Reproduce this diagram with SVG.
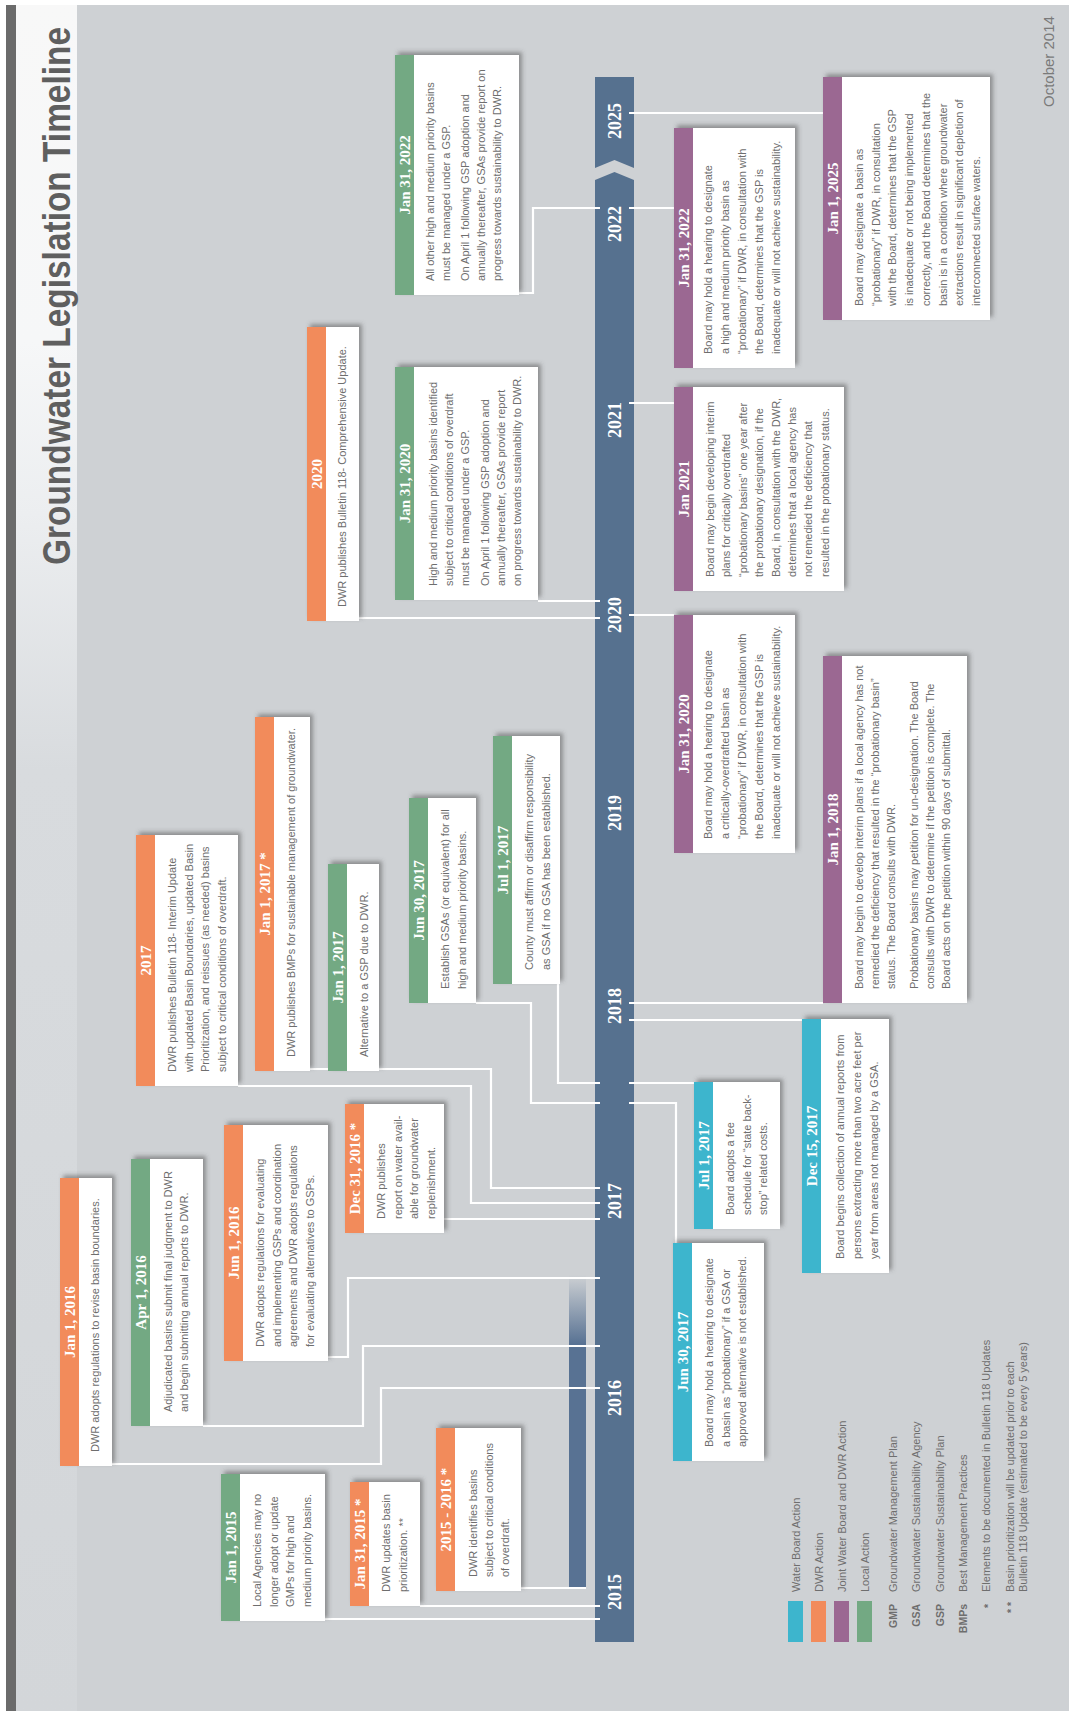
<svg xmlns="http://www.w3.org/2000/svg" width="1069" height="1711" viewBox="0 0 1069 1711">
<defs>
<style>
.box{fill:#fff;filter:url(#sh)}
.cy{fill:#3db5cd}.or{fill:#f28b5b}.pu{fill:#9b6892}.gr{fill:#73a983}
.hd{font-family:'Liberation Serif','Times New Roman',serif;font-weight:bold;font-size:15px;fill:#fff;text-anchor:middle}
.bd{font-family:'Liberation Sans',Arial,sans-serif;font-size:11px;fill:#6e6e6e}
.cn{stroke:#fff;stroke-width:2.2;fill:none}
.yr{font-family:'Liberation Serif','Times New Roman',serif;font-weight:bold;font-size:18px;fill:#fff;text-anchor:middle}
.lg{font-family:'Liberation Sans',Arial,sans-serif;font-size:11px;fill:#6e6e6e}
.ab{font-family:'Liberation Sans',Arial,sans-serif;font-size:10.5px;font-weight:bold;fill:#6e6e6e;text-anchor:end}
</style>
<filter id="sh" x="-10%" y="-10%" width="130%" height="130%">
<feDropShadow dx="3" dy="3" stdDeviation="2" flood-color="#4a4a4a" flood-opacity="0.5"/>
</filter>
<linearGradient id="band" gradientUnits="userSpaceOnUse" x1="0" y1="0" x2="1711" y2="0">
<stop offset="0" stop-color="#d3d6d9"/>
<stop offset="0.55" stop-color="#d8dbde"/>
<stop offset="0.7" stop-color="#eceef0"/>
<stop offset="0.8" stop-color="#f6f7f8"/>
<stop offset="1" stop-color="#f8f8f8"/>
</linearGradient>
<linearGradient id="sec" gradientUnits="userSpaceOnUse" x1="123" y1="0" x2="436" y2="0">
<stop offset="0" stop-color="#587293"/>
<stop offset="0.78" stop-color="#587293"/>
<stop offset="1" stop-color="#587293" stop-opacity="0"/>
</linearGradient>
</defs>
<g transform="translate(0,1711) rotate(-90)">
<g id="background">
<rect x="0" y="0" width="1711" height="1069" fill="#ced1d4"/>
<rect x="0" y="16" width="1706" height="61" fill="url(#band)"/>
<rect x="0" y="6" width="1706" height="10" fill="#6b6b6b"/>
<rect x="0" y="0" width="1711" height="6" fill="#fff"/>
<rect x="1706" y="0" width="5" height="1069" fill="#fff"/>
<text transform="translate(1146,70) scale(0.88,1)" x="0" y="0" font-family="'Liberation Sans',Arial,sans-serif" font-size="38" font-weight="bold" fill="#5f5f5f">Groundwater Legislation Timeline</text>
<text x="1604" y="1054" font-family="'Liberation Sans',Arial,sans-serif" font-size="15" fill="#7a7a7a">October 2014</text>
</g>
<g id="timeline">
<rect x="123" y="569" width="313" height="17" fill="url(#sec)"/>
<polygon points="69,595 1531,595 1539,614.5 1531,634 69,634" fill="#56718f"/>
<polygon points="1543,595 1634,595 1634,634 1543,634 1551,614.5" fill="#56718f"/>
</g>
<g id="connectors" class="cn">
<polyline points="92,325 92,600"/>
<polyline points="105,420 105,600"/>
<polyline points="123,521 123,586"/>
<polyline points="247,112 247,381 323,381 323,600"/>
<polyline points="285,203 285,363 365,363 365,600"/>
<polyline points="354,328 354,348 433,348 433,600"/>
<polyline points="492,444 492,600"/>
<polyline points="625,238 625,471 508,471 508,600"/>
<polyline points="642,310 642,491 523,491 523,600"/>
<polyline points="708,476 708,531 608,531 608,600"/>
<polyline points="727,558 628,558 628,600"/>
<polyline points="1093,359 1093,600"/>
<polyline points="1110,538 1110,600"/>
<polyline points="1418,519 1418,533 1503,533 1503,600"/>
<polyline points="608,629 608,676 468,676"/>
<polyline points="628,629 628,694"/>
<polyline points="691,629 691,802"/>
<polyline points="708,629 708,823"/>
<polyline points="1096,629 1096,674"/>
<polyline points="1308,629 1308,674"/>
<polyline points="1503,629 1503,674"/>
<polyline points="1598,629 1598,823"/>
</g>
<g id="years" class="yr">
<text x="119" y="620.5">2015</text>
<text x="313" y="620.5">2016</text>
<text x="510" y="620.5">2017</text>
<text x="705" y="620.5">2018</text>
<text x="898" y="620.5">2019</text>
<text x="1096" y="620.5">2020</text>
<text x="1291" y="620.5">2021</text>
<text x="1487" y="620.5">2022</text>
<text x="1590" y="620.5">2025</text>
</g>
<g id="n-jan1-2015">
<rect class="box" x="90" y="221" width="147" height="104"/>
<rect class="gr" x="90" y="221" width="147" height="19"/>
<text class="hd" x="163.5" y="235.5">Jan 1, 2015</text>
<text class="bd"><tspan x="104" y="261">Local Agencies may no</tspan><tspan x="104" y="277.5">longer adopt or update</tspan><tspan x="104" y="294">GMPs for high and</tspan><tspan x="104" y="310.5">medium priority basins.</tspan></text>
</g>
<g id="n-jan31-2015">
<rect class="box" x="105" y="350" width="124" height="70"/>
<rect class="or" x="105" y="350" width="124" height="19"/>
<text class="hd" x="167" y="364.5">Jan 31, 2015 *</text>
<text class="bd"><tspan x="119" y="390">DWR updates basin</tspan><tspan x="119" y="406.5">prioritization. **</tspan></text>
</g>
<g id="n-2015-2016">
<rect class="box" x="120" y="436" width="163" height="85"/>
<rect class="or" x="120" y="436" width="163" height="19"/>
<text class="hd" x="201.5" y="450.5">2015 - 2016 *</text>
<text class="bd"><tspan x="134" y="477">DWR identifies basins</tspan><tspan x="134" y="493">subject to critical conditions</tspan><tspan x="134" y="509">of overdraft.</tspan></text>
</g>
<g id="n-jan1-2016">
<rect class="box" x="245" y="60" width="288" height="52"/>
<rect class="or" x="245" y="60" width="288" height="19"/>
<text class="hd" x="389" y="74.5">Jan 1, 2016</text>
<text class="bd"><tspan x="259" y="99">DWR adopts regulations to revise basin boundaries.</tspan></text>
</g>
<g id="n-apr1-2016">
<rect class="box" x="285" y="131" width="267" height="72"/>
<rect class="gr" x="285" y="131" width="267" height="19"/>
<text class="hd" x="418.5" y="145.5">Apr 1, 2016</text>
<text class="bd"><tspan x="299" y="172">Adjudicated basins submit final judgment to DWR</tspan><tspan x="299" y="188">and begin submitting annual reports to DWR.</tspan></text>
</g>
<g id="n-jun1-2016">
<rect class="box" x="350" y="224" width="236" height="104"/>
<rect class="or" x="350" y="224" width="236" height="19"/>
<text class="hd" x="468" y="238.5">Jun 1, 2016</text>
<text class="bd"><tspan x="364" y="264">DWR adopts regulations for evaluating</tspan><tspan x="364" y="280.5">and implementing GSPs and coordination</tspan><tspan x="364" y="297">agreements and DWR adopts regulations</tspan><tspan x="364" y="313.5">for evaluating alternatives to GSPs.</tspan></text>
</g>
<g id="n-dec31-2016">
<rect class="box" x="478" y="345" width="129" height="99"/>
<rect class="or" x="478" y="345" width="129" height="19"/>
<text class="hd" x="542.5" y="359.5">Dec 31, 2016 *</text>
<text class="bd"><tspan x="492" y="385">DWR publishes</tspan><tspan x="492" y="401.5">report on water avail-</tspan><tspan x="492" y="418">able for groundwater</tspan><tspan x="492" y="434.5">replenishment.</tspan></text>
</g>
<g id="n-2017">
<rect class="box" x="625" y="136" width="251" height="102"/>
<rect class="or" x="625" y="136" width="251" height="19"/>
<text class="hd" x="750.5" y="150.5">2017</text>
<text class="bd"><tspan x="639" y="176">DWR publishes Bulletin 118- Interim Update</tspan><tspan x="639" y="192.5">with updated Basin Boundaries, updated Basin</tspan><tspan x="639" y="209">Prioritization, and reissues (as needed) basins</tspan><tspan x="639" y="225.5">subject to critical conditions of overdraft.</tspan></text>
</g>
<g id="n-jan1-2017-dwr">
<rect class="box" x="640" y="255" width="354" height="55"/>
<rect class="or" x="640" y="255" width="354" height="19"/>
<text class="hd" x="817" y="269.5">Jan 1, 2017 *</text>
<text class="bd"><tspan x="654" y="295">DWR publishes BMPs for sustainable management of groundwater.</tspan></text>
</g>
<g id="n-jan1-2017-local">
<rect class="box" x="640" y="328" width="207" height="51"/>
<rect class="gr" x="640" y="328" width="207" height="19"/>
<text class="hd" x="743.5" y="342.5">Jan 1, 2017</text>
<text class="bd"><tspan x="654" y="368">Alternative to a GSP due to DWR.</tspan></text>
</g>
<g id="n-jun30-2017-local">
<rect class="box" x="708" y="409" width="205" height="67"/>
<rect class="gr" x="708" y="409" width="205" height="19"/>
<text class="hd" x="810.5" y="423.5">Jun 30, 2017</text>
<text class="bd"><tspan x="722" y="449">Establish GSAs (or equivalent) for all</tspan><tspan x="722" y="465.5">high and medium priority basins.</tspan></text>
</g>
<g id="n-jul1-2017-local">
<rect class="box" x="727" y="493" width="248" height="67"/>
<rect class="gr" x="727" y="493" width="248" height="19"/>
<text class="hd" x="851" y="507.5">Jul 1, 2017</text>
<text class="bd"><tspan x="741" y="533">County must affirm or disaffirm responsibility</tspan><tspan x="741" y="549.5">as GSA if no GSA has been established.</tspan></text>
</g>
<g id="n-2020">
<rect class="box" x="1090" y="307" width="294" height="52"/>
<rect class="or" x="1090" y="307" width="294" height="19"/>
<text class="hd" x="1237" y="321.5">2020</text>
<text class="bd"><tspan x="1104" y="346">DWR publishes Bulletin 118- Comprehensive Update.</tspan></text>
</g>
<g id="n-jan31-2020-local">
<rect class="box" x="1111" y="395" width="233" height="143"/>
<rect class="gr" x="1111" y="395" width="233" height="19"/>
<text class="hd" x="1227.5" y="409.5">Jan 31, 2020</text>
<text class="bd"><tspan x="1125" y="437">High and medium priority basins identified</tspan><tspan x="1125" y="453">subject to critical conditions of overdraft</tspan><tspan x="1125" y="469">must be managed under a GSP.</tspan><tspan x="1125" y="489">On April 1 following GSP adoption and</tspan><tspan x="1125" y="505">annually thereafter, GSAs provide report</tspan><tspan x="1125" y="521">on progress towards sustainability to DWR.</tspan></text>
</g>
<g id="n-jan31-2022-local">
<rect class="box" x="1416" y="395" width="240" height="124"/>
<rect class="gr" x="1416" y="395" width="240" height="19"/>
<text class="hd" x="1536" y="409.5">Jan 31, 2022</text>
<text class="bd"><tspan x="1430" y="434">All other high and medium priority basins</tspan><tspan x="1430" y="450">must be managed under a GSP.</tspan><tspan x="1430" y="469">On April 1 following GSP adoption and</tspan><tspan x="1430" y="485">annually thereafter, GSAs provide report on</tspan><tspan x="1430" y="501">progress towards sustainability to DWR.</tspan></text>
</g>
<g id="n-jun30-2017-board">
<rect class="box" x="250" y="673" width="218" height="91"/>
<rect class="cy" x="250" y="673" width="218" height="19"/>
<text class="hd" x="359" y="687.5">Jun 30, 2017</text>
<text class="bd"><tspan x="264" y="713">Board may hold a hearing to designate</tspan><tspan x="264" y="729.5">a basin as “probationary” if a GSA or</tspan><tspan x="264" y="746">approved alternative is not established.</tspan></text>
</g>
<g id="n-jul1-2017-board">
<rect class="box" x="482" y="694" width="147" height="86"/>
<rect class="cy" x="482" y="694" width="147" height="19"/>
<text class="hd" x="555.5" y="708.5">Jul 1, 2017</text>
<text class="bd"><tspan x="496" y="734">Board adopts a fee</tspan><tspan x="496" y="750.5">schedule for “state back-</tspan><tspan x="496" y="767">stop” related costs.</tspan></text>
</g>
<g id="n-dec15-2017">
<rect class="box" x="438" y="802" width="254" height="87"/>
<rect class="cy" x="438" y="802" width="254" height="19"/>
<text class="hd" x="565" y="816.5">Dec 15, 2017</text>
<text class="bd"><tspan x="452" y="844">Board begins collection of annual reports from</tspan><tspan x="452" y="861">persons extracting more than two acre feet per</tspan><tspan x="452" y="878">year from areas not managed by a GSA.</tspan></text>
</g>
<g id="n-jan1-2018">
<rect class="box" x="708" y="823" width="347" height="144"/>
<rect class="pu" x="708" y="823" width="347" height="19"/>
<text class="hd" x="881.5" y="837.5">Jan 1, 2018</text>
<text class="bd"><tspan x="722" y="863">Board may begin to develop interim plans if a local agency has not</tspan><tspan x="722" y="879">remedied the deficiency that resulted in the “probationary basin”</tspan><tspan x="722" y="895">status. The Board consults with DWR.</tspan><tspan x="722" y="918">Probationary basins may petition for un-designation. The Board</tspan><tspan x="722" y="934">consults with DWR to determine if the petition is complete. The</tspan><tspan x="722" y="950">Board acts on the petition within 90 days of submittal.</tspan></text>
</g>
<g id="n-jan31-2020-joint">
<rect class="box" x="858" y="674" width="238" height="121"/>
<rect class="pu" x="858" y="674" width="238" height="19"/>
<text class="hd" x="977" y="688.5">Jan 31, 2020</text>
<text class="bd"><tspan x="872" y="712">Board may hold a hearing to designate</tspan><tspan x="872" y="729">a critically-overdrafted basin as</tspan><tspan x="872" y="746">“probationary” if DWR, in consultation with</tspan><tspan x="872" y="763">the Board, determines that the GSP is</tspan><tspan x="872" y="780">inadequate or will not achieve sustainability.</tspan></text>
</g>
<g id="n-jan-2021">
<rect class="box" x="1120" y="674" width="204" height="170"/>
<rect class="pu" x="1120" y="674" width="204" height="19"/>
<text class="hd" x="1222" y="688.5">Jan 2021</text>
<text class="bd"><tspan x="1134" y="714">Board may begin developing interim</tspan><tspan x="1134" y="730.4">plans for critically overdrafted</tspan><tspan x="1134" y="746.8">“probationary basins” one year after</tspan><tspan x="1134" y="763.2">the probationary designation, if the</tspan><tspan x="1134" y="779.6">Board, in consultation with the DWR,</tspan><tspan x="1134" y="796">determines that a local agency has</tspan><tspan x="1134" y="812.4">not remedied the deficiency that</tspan><tspan x="1134" y="828.8">resulted in the probationary status.</tspan></text>
</g>
<g id="n-jan31-2022-joint">
<rect class="box" x="1343" y="674" width="240" height="121"/>
<rect class="pu" x="1343" y="674" width="240" height="19"/>
<text class="hd" x="1463" y="688.5">Jan 31, 2022</text>
<text class="bd"><tspan x="1357" y="712">Board may hold a hearing to designate</tspan><tspan x="1357" y="729">a high and medium priority basin as</tspan><tspan x="1357" y="746">“probationary” if DWR, in consultation with</tspan><tspan x="1357" y="763">the Board, determines that the GSP is</tspan><tspan x="1357" y="780">inadequate or will not achieve sustainability.</tspan></text>
</g>
<g id="n-jan1-2025">
<rect class="box" x="1391" y="823" width="243" height="167"/>
<rect class="pu" x="1391" y="823" width="243" height="19"/>
<text class="hd" x="1512.5" y="837.5">Jan 1, 2025</text>
<text class="bd"><tspan x="1405" y="863">Board may designate a basin as</tspan><tspan x="1405" y="879.7">“probationary” if DWR, in consultation</tspan><tspan x="1405" y="896.4">with the Board, determines that the GSP</tspan><tspan x="1405" y="913.1">is inadequate or not being implemented</tspan><tspan x="1405" y="929.8">correctly, and the Board determines that the</tspan><tspan x="1405" y="946.5">basin is in a condition where groundwater</tspan><tspan x="1405" y="963.2">extractions result in significant depletion of</tspan><tspan x="1405" y="979.9">interconnected surface waters.</tspan></text>
</g>
<g id="legend">
<rect class="cy" x="69" y="788" width="41" height="15"/>
<rect class="or" x="69" y="811" width="41" height="15"/>
<rect class="pu" x="69" y="834" width="41" height="15"/>
<rect class="gr" x="69" y="857" width="41" height="15"/>
<text class="lg" x="119" y="800">Water Board Action</text>
<text class="lg" x="119" y="823">DWR Action</text>
<text class="lg" x="119" y="846">Joint Water Board and DWR Action</text>
<text class="lg" x="119" y="869">Local Action</text>
<text class="ab" x="107" y="897">GMP</text>
<text class="lg" x="119" y="897">Groundwater Management Plan</text>
<text class="ab" x="107" y="920">GSA</text>
<text class="lg" x="119" y="920">Groundwater Sustainability Agency</text>
<text class="ab" x="107" y="944">GSP</text>
<text class="lg" x="119" y="944">Groundwater Sustainability Plan</text>
<text class="ab" x="107" y="967">BMPs</text>
<text class="lg" x="119" y="967">Best Management Practices</text>
<text class="ab" x="107" y="992">*</text>
<text class="lg" x="119" y="990">Elements to be documented in Bulletin 118 Updates</text>
<text class="ab" x="109" y="1015">* *</text>
<text class="lg" x="119" y="1014">Basin prioritization will be updated prior to each</text>
<text class="lg" x="119" y="1027">Bulletin 118 Update (estimated to be every 5 years)</text>
</g>
</g>
</svg>
